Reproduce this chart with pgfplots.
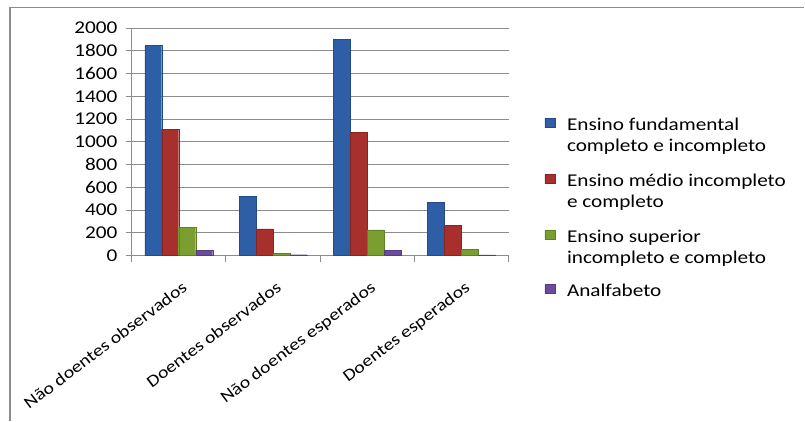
\documentclass[border=0pt]{standalone}
\usepackage{fontspec}
\setmainfont{Carlito}[FakeStretch=1.18]
\usepackage{pgfplots}
\pgfplotsset{compat=1.18}

\definecolor{blueD}{HTML}{2E5EA6}
\definecolor{blueL}{HTML}{5790DC}
\definecolor{redD}{HTML}{A8302C}
\definecolor{redL}{HTML}{DA5650}
\definecolor{greenD}{HTML}{7A9E30}
\definecolor{greenL}{HTML}{B0D462}
\definecolor{purpD}{HTML}{6A4C9C}
\definecolor{purpL}{HTML}{A080D4}
\definecolor{gridc}{HTML}{8C8C8C}

\begin{document}
\begin{tikzpicture}[x=1pt,y=1pt,font=\fontsize{18}{21}\selectfont]
\begin{axis}[
  scale only axis, width=377.3pt, height=227.7pt,
  xmin=-0.5, xmax=3.5, ymin=0, ymax=2000,
  ybar=0pt, bar width=17pt,
  xtick={-0.5,0.5,1.5,2.5,3.5},
  x tick label as interval,
  xticklabels={Não doentes observados,Doentes observados,Não doentes esperados,Doentes esperados},
  xticklabel style={rotate=37, anchor=north east, inner sep=0pt,
    font=\fontsize{16.8}{20}\selectfont, xshift=-9.5pt, yshift=-16.5pt},
  ytick={0,200,...,2000},
  yticklabel style={inner sep=0pt, xshift=-8pt},
  ymajorgrids, grid style={gridc, line width=0.8pt},
  axis x line*=bottom, axis y line*=left,
  axis line style={gridc, line width=0.8pt},
  tick align=outside, major tick length=6pt,
  tick style={gridc, line width=0.8pt},
  /pgf/number format/assume math mode=true,
  /pgf/number format/1000 sep={},
  legend image code/.code={\fill[#1] (0pt,3.5pt) rectangle (10pt,12.5pt);},
  legend style={at={(1.087,0.632)}, anchor=north west, draw=none, fill=none,
    cells={anchor=base west, inner sep=0pt}, column sep=10pt, row sep=36pt},
]
\coordinate (o) at (axis cs:-0.5,0);
\addplot[draw=blueD!80!black, line width=0.4pt, left color=blueD, middle color=blueL, right color=blueD]
  coordinates {(0,1845) (1,522) (2,1898) (3,469)};
\addplot[draw=redD!80!black, line width=0.4pt, left color=redD, middle color=redL, right color=redD]
  coordinates {(0,1111) (1,235) (2,1081) (3,264)};
\addplot[draw=greenD!80!black, line width=0.4pt, left color=greenD, middle color=greenL, right color=greenD]
  coordinates {(0,246) (1,18) (2,226) (3,53)};
\addplot[draw=purpD!80!black, line width=0.4pt, left color=purpD, middle color=purpL, right color=purpD]
  coordinates {(0,47) (1,7) (2,47) (3,5)};
\legend{{\begin{tabular}[t]{@{}l@{}}Ensino fundamental\\completo e incompleto\end{tabular}},
        {\begin{tabular}[t]{@{}l@{}}Ensino médio incompleto\\e completo\end{tabular}},
        {\begin{tabular}[t]{@{}l@{}}Ensino superior\\incompleto e completo\end{tabular}},
        Analfabeto}
\end{axis}
\pgfresetboundingbox
\begin{scope}[shift={(o)}]
  % outer chart frame (left and top edges)
  \draw[gridc, line width=1.2pt] (-121.7,-165.3) -- (-121.7,248.2) -- (673.3,248.2);
  \path[use as bounding box] (-131.7,-165.3) rectangle (673.3,255.7);
\end{scope}
\end{tikzpicture}
\end{document}
